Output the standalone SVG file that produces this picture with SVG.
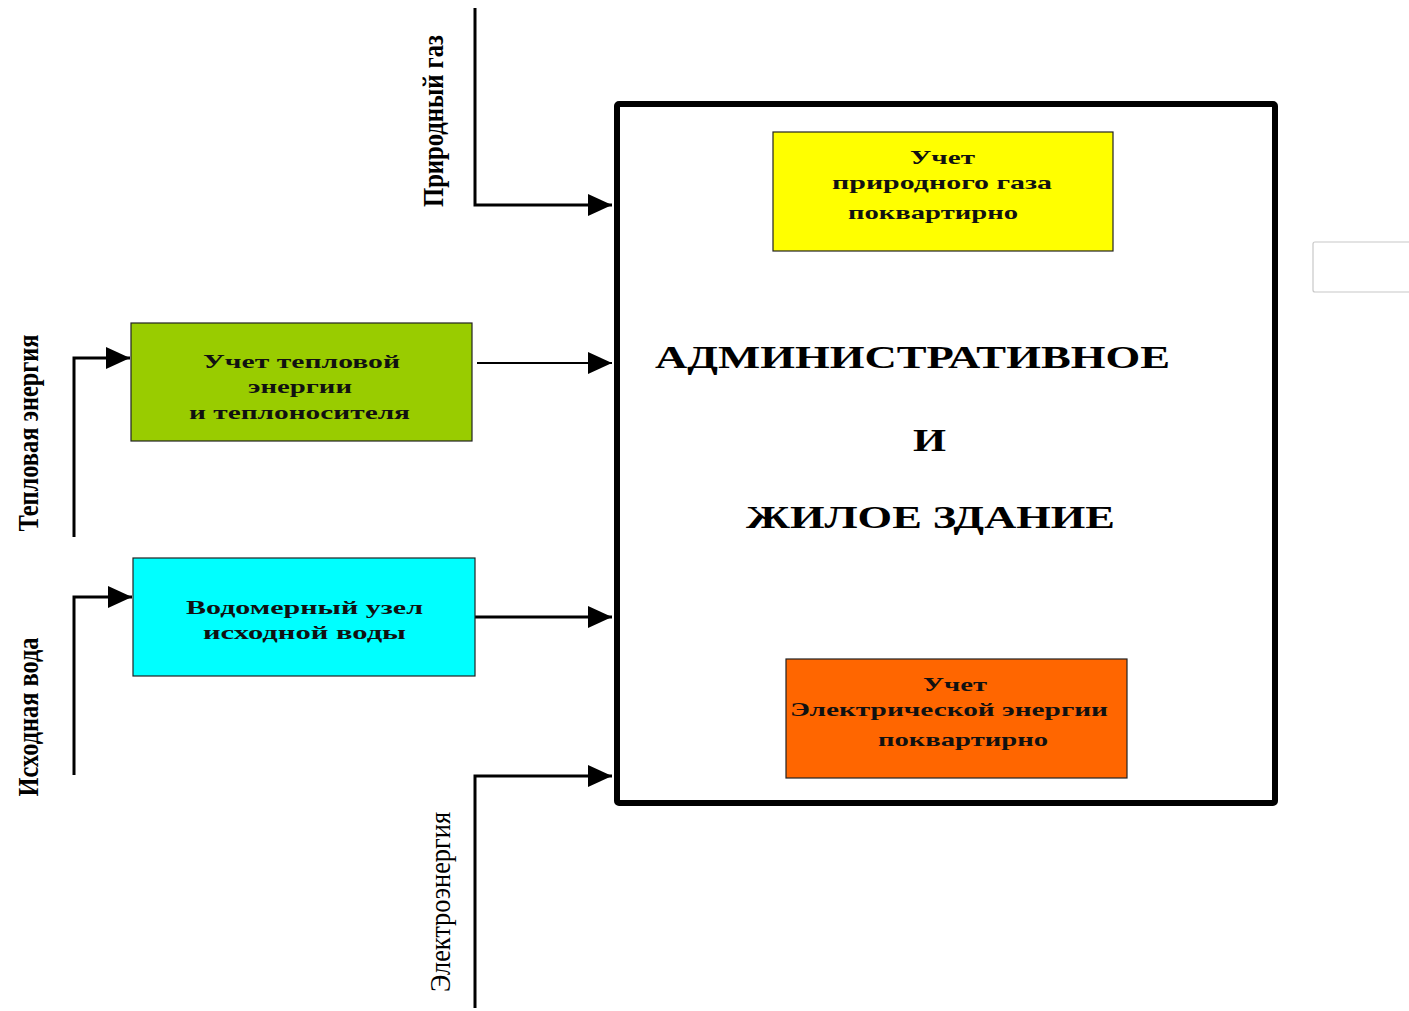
<svg xmlns="http://www.w3.org/2000/svg" width="1409" height="1011" viewBox="0 0 1409 1011">
<style>
.box{stroke:#222;stroke-width:1.2}
.bt{font-family:"Liberation Serif","Times New Roman",serif;font-weight:bold;font-size:19px;fill:#111;text-anchor:middle}
.tt{font-family:"Liberation Serif","Times New Roman",serif;font-weight:bold;font-size:31px;fill:#000;text-anchor:middle}
.vl{font-family:"Liberation Serif","Times New Roman",serif;font-weight:bold;font-size:30px;fill:#000;text-anchor:middle}
.vr{font-family:"Liberation Serif","Times New Roman",serif;font-weight:normal;font-size:30px;fill:#000;text-anchor:middle}
.ln{fill:none;stroke:#000;stroke-width:3}
</style>
<defs>
<marker id="ar" markerUnits="userSpaceOnUse" markerWidth="25" markerHeight="22" refX="24" refY="11" orient="auto">
<path d="M0,0 L24,11 L0,22 z" fill="#000"/>
</marker>
</defs>
<rect width="1409" height="1011" fill="#fff"/>
<g id="connectors">
<path class="ln" d="M475,8 V205 H612" marker-end="url(#ar)"/>
<path class="ln" d="M74,537 V358 H130" marker-end="url(#ar)"/>
<path class="ln" d="M477,363 H612" marker-end="url(#ar)" style="stroke-width:2"/>
<path class="ln" d="M74,775 V597 H132" marker-end="url(#ar)"/>
<path class="ln" d="M475,617 H612" marker-end="url(#ar)"/>
<path class="ln" d="M475,1008 V776 H612" marker-end="url(#ar)"/>
</g>
<g id="building">
<rect x="617" y="104" width="658" height="699" rx="2" fill="none" stroke="#000" stroke-width="6"/>
<text class="tt" x="912.5" y="368" textLength="515" lengthAdjust="spacingAndGlyphs">АДМИНИСТРАТИВНОЕ</text>
<text class="tt" x="929.5" y="451" textLength="33" lengthAdjust="spacingAndGlyphs">И</text>
<text class="tt" x="930.5" y="528" textLength="369" lengthAdjust="spacingAndGlyphs">ЖИЛОЕ ЗДАНИЕ</text>
</g>
<g id="gas-meter">
<rect class="box" x="773" y="132" width="340" height="119" fill="#FFFF00"/>
<text class="bt" x="942.5" y="164" textLength="65" lengthAdjust="spacingAndGlyphs">Учет</text>
<text class="bt" x="942" y="189" textLength="220" lengthAdjust="spacingAndGlyphs">природного газа</text>
<text class="bt" x="933" y="219" textLength="170" lengthAdjust="spacingAndGlyphs">поквартирно</text>
</g>
<g id="heat-meter">
<rect class="box" x="131" y="323" width="341" height="118" fill="#99CC00"/>
<text class="bt" x="301.5" y="368" textLength="197" lengthAdjust="spacingAndGlyphs">Учет тепловой</text>
<text class="bt" x="300" y="393" textLength="104" lengthAdjust="spacingAndGlyphs">энергии</text>
<text class="bt" x="299.5" y="419" textLength="221" lengthAdjust="spacingAndGlyphs">и теплоносителя</text>
</g>
<g id="water-meter">
<rect class="box" x="133" y="558" width="342" height="118" fill="#00FFFF"/>
<text class="bt" x="304.5" y="614" textLength="237" lengthAdjust="spacingAndGlyphs">Водомерный узел</text>
<text class="bt" x="304.5" y="639" textLength="203" lengthAdjust="spacingAndGlyphs">исходной воды</text>
</g>
<g id="electric-meter">
<rect class="box" x="786" y="659" width="341" height="119" fill="#FF6600"/>
<text class="bt" x="955" y="691" textLength="64" lengthAdjust="spacingAndGlyphs">Учет</text>
<text class="bt" x="949" y="716" textLength="318" lengthAdjust="spacingAndGlyphs">Электрической энергии</text>
<text class="bt" x="963" y="746" textLength="170" lengthAdjust="spacingAndGlyphs">поквартирно</text>
</g>
<g id="label-gas"><text class="vl" transform="translate(443,121) rotate(-90)" textLength="172" lengthAdjust="spacingAndGlyphs">Природный газ</text></g>
<g id="label-heat"><text class="vl" transform="translate(38,433) rotate(-90)" textLength="197" lengthAdjust="spacingAndGlyphs">Тепловая энергия</text></g>
<g id="label-water"><text class="vl" transform="translate(38,717) rotate(-90)" textLength="159" lengthAdjust="spacingAndGlyphs">Исходная вода</text></g>
<g id="label-electric"><text class="vr" transform="translate(450,902) rotate(-90)" textLength="180" lengthAdjust="spacingAndGlyphs">Электроэнергия</text></g>
<g id="blank-box"><rect x="1313" y="242" width="100" height="50" rx="2" fill="#fff" stroke="#c8c8c8" stroke-width="1.2"/></g>
</svg>
